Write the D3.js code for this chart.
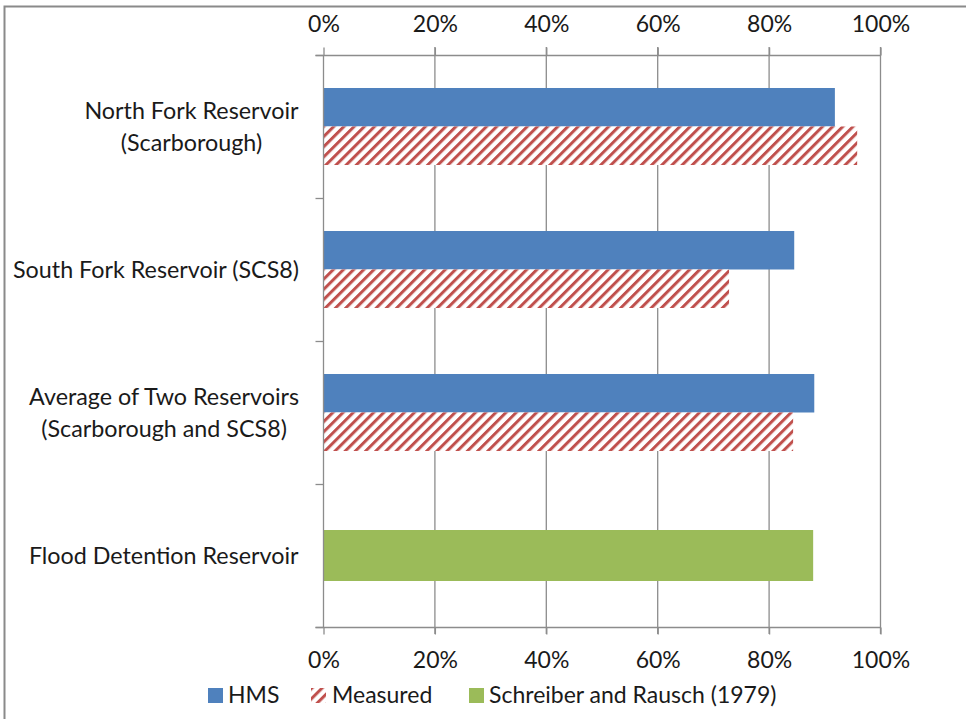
<!DOCTYPE html>
<html>
<head>
<meta charset="utf-8">
<script src="https://cdn.jsdelivr.net/npm/d3@7"></script>
<style>
  html, body { margin: 0; padding: 0; background: #ffffff; }
  svg { display: block; }
  text { font-family: Lato, "Open Sans", "Liberation Sans", sans-serif; fill: #1a1a1a; }
</style>
</head>
<body>
<svg id="chart" width="966" height="719"></svg>
<script>
// ---- data ----
const categories = [
  "North Fork Reservoir\n(Scarborough)",
  "South Fork Reservoir (SCS8)",
  "Average of Two Reservoirs\n(Scarborough and SCS8)",
  "Flood Detention Reservoir"
];
const hms = [0.919, 0.846, 0.882, null];
const measured = [0.959, 0.729, 0.844, null];
const schreiber = [null, null, null, 0.880];
const seriesNames = ["HMS", "Measured", "Schreiber and Rausch (1979)"];
const xTicks = [0, 0.2, 0.4, 0.6, 0.8, 1.0];

// ---- layout ----
const svg = d3.select("#chart");
const W = 966, H = 719;
const plotLeft = 323, plotRight = 880, plotTop = 55, plotBottom = 627;
const colors = { HMS: "#4f81bd", Measured: "#c0504d", Schreiber: "#9bbb59" };
const gridColor = "#8c8c8c";

// hatch pattern
const defs = svg.append("defs");
const pat = defs.append("pattern")
  .attr("id", "hatch")
  .attr("patternUnits", "userSpaceOnUse")
  .attr("width", 7.2).attr("height", 7.2)
  .attr("patternTransform", "rotate(45)");
pat.append("rect").attr("width", 7.2).attr("height", 7.2).attr("fill", "#ffffff");
pat.append("rect").attr("x", 0).attr("y", 0).attr("width", 3.0).attr("height", 7.2).attr("fill", colors.Measured);

// frame
svg.append("path")
  .attr("d", `M4.5,${H} L4.5,6.5 L${W},6.5`)
  .attr("fill", "none").attr("stroke", "#8a8a8a").attr("stroke-width", 2);

const x = d3.scaleLinear().domain([0, 1]).range([plotLeft, plotRight]);
const y = d3.scaleBand().domain(categories).range([plotTop, plotBottom]).paddingInner(0).paddingOuter(0);
const yPair = d3.scaleBand().domain(["HMS", "Measured"]).range([0, y.bandwidth()]).paddingInner(0).paddingOuter(0.857);
const ySingle = d3.scaleBand().domain(["Schreiber"]).range([0, y.bandwidth()]).paddingInner(0).paddingOuter(0.902);

// gridlines
svg.append("g").selectAll("line").data(xTicks.slice(1)).join("line")
  .attr("x1", d => x(d) + 0.5).attr("x2", d => x(d) + 0.5)
  .attr("y1", plotTop - 8).attr("y2", plotBottom + 7)
  .attr("stroke", gridColor).attr("stroke-width", 1.3);

// bars
const gBars = svg.append("g");
categories.forEach((c, i) => {
  if (hms[i] != null) {
    gBars.append("rect")
      .attr("x", x(0)).attr("y", y(c) + yPair("HMS"))
      .attr("width", x(hms[i]) - x(0)).attr("height", yPair.bandwidth())
      .attr("fill", colors.HMS);
  }
  if (measured[i] != null) {
    gBars.append("rect")
      .attr("x", x(0)).attr("y", y(c) + yPair("Measured"))
      .attr("width", x(measured[i]) - x(0)).attr("height", yPair.bandwidth())
      .attr("fill", "url(#hatch)");
  }
  if (schreiber[i] != null) {
    gBars.append("rect")
      .attr("x", x(0)).attr("y", y(c) + ySingle("Schreiber"))
      .attr("width", x(schreiber[i]) - x(0)).attr("height", ySingle.bandwidth())
      .attr("fill", colors.Schreiber);
  }
});

// x axes (top and bottom)
const fmt = d3.format(".0%");
const topAxis = d3.axisTop(x).tickValues(xTicks).tickFormat(fmt).tickSize(8).tickSizeOuter(0).tickPadding(16);
const botAxis = d3.axisBottom(x).tickValues(xTicks).tickFormat(fmt).tickSize(7).tickSizeOuter(0).tickPadding(17);
function styleAxis(g) {
  g.select(".domain").attr("stroke", gridColor).attr("stroke-width", 1.3);
  g.selectAll(".tick line").attr("stroke", gridColor).attr("stroke-width", 1.3);
  g.selectAll(".tick text").attr("font-size", 23).attr("fill", "#1a1a1a")
    .style("font-family", "Lato, 'Open Sans', sans-serif");
}
svg.append("g").attr("transform", `translate(0.5,${plotTop + 0.5})`).call(topAxis).call(styleAxis)
  .select(".domain").attr("d", `M${plotLeft - 8},0 H${plotRight}`);
svg.append("g").attr("transform", `translate(0.5,${plotBottom + 0.5})`).call(botAxis).call(styleAxis)
  .select(".domain").attr("d", `M${plotLeft - 8},0 H${plotRight}`);

// y axis
const yAxisG = svg.append("g").attr("transform", `translate(${plotLeft + 0.5},0)`);
yAxisG.append("line").attr("x1", 0).attr("x2", 0).attr("y1", plotTop).attr("y2", plotBottom)
  .attr("stroke", gridColor).attr("stroke-width", 1.3);
const bounds = categories.map(c => y(c)).concat([plotBottom]);
yAxisG.selectAll("line.tk").data(bounds).join("line").attr("class", "tk")
  .attr("x1", -8).attr("x2", 0).attr("y1", d => Math.round(d) + 0.5).attr("y2", d => Math.round(d) + 0.5)
  .attr("stroke", gridColor).attr("stroke-width", 1.3);

// category labels
const lineH = 32;
const labelRight = plotLeft - 24;
categories.forEach(c => {
  const lines = c.split("\n");
  const cy = y(c) + y.bandwidth() / 2;
  const t = svg.append("text")
    .attr("text-anchor", "middle")
    .attr("font-size", 23.3);
  lines.forEach((ln, j) => {
    t.append("tspan")
      .attr("x", 0)
      .attr("y", cy + (j - (lines.length - 1) / 2) * lineH + 8)
      .text(ln);
  });
  const bb = t.node().getBBox();
  t.attr("transform", `translate(${labelRight - (bb.x + bb.width)},0)`);
});

// legend
const legendItems = [
  { name: seriesNames[0], fill: colors.HMS, x: 208, tx: 228 },
  { name: seriesNames[1], fill: "url(#hatch)", x: 311, tx: 332 },
  { name: seriesNames[2], fill: colors.Schreiber, x: 469, tx: 489 }
];
const lg = svg.append("g");
legendItems.forEach(it => {
  lg.append("rect").attr("x", it.x).attr("y", 688).attr("width", 15).attr("height", 15).attr("fill", it.fill);
  lg.append("text").attr("x", it.tx).attr("y", 703).attr("font-size", 23).text(it.name);
});
</script>
</body>
</html>
